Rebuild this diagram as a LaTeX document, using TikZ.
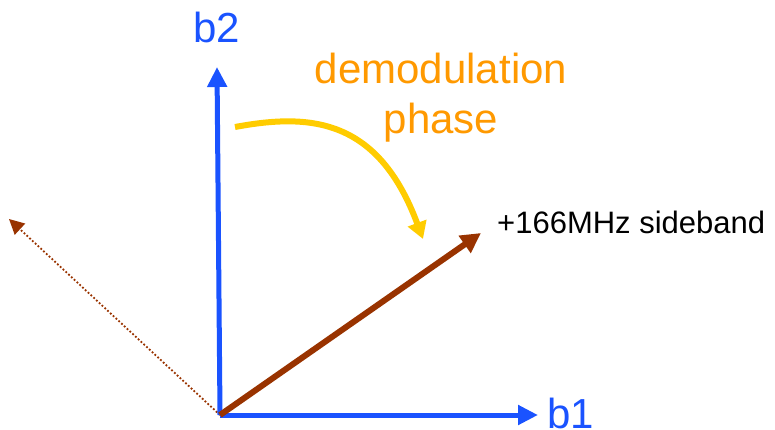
\documentclass[tikz,border=0pt]{standalone}
\usepackage{fontspec}
\setmainfont{Liberation Sans}
\usetikzlibrary{arrows.meta,positioning}
\definecolor{AxisBlue}{RGB}{26,83,255}
\definecolor{VecBrown}{RGB}{153,51,0}
\definecolor{TurnYellow}{RGB}{255,204,0}
\definecolor{LabelOrange}{RGB}{255,153,0}

\begin{document}
\begin{tikzpicture}[x=1pt, y=-1pt, every node/.style={inner sep=0pt},
axis/.style={AxisBlue,line width=5pt,-{Triangle[length=20pt,width=19pt]}},
vec/.style={VecBrown,line width=6pt,-{Triangle[length=20pt,width=20pt]}},
ghost/.style={VecBrown,line width=1.8pt,dotted,-{Triangle[length=15pt,width=15pt]}},
turn/.style={TurnYellow,line width=6pt,-{Triangle[length=17pt,width=19pt]}},
big/.style={font=\fontsize{42}{50}\selectfont},
small/.style={font=\fontsize{31}{37}\selectfont}]
\useasboundingbox (0,0) rectangle (775,429);
\coordinate (origin) at (220,415);
\coordinate (b2tip) at (217,67);
\coordinate (b1tip) at (538,415);
\coordinate (sbtip) at (481,233);
\coordinate (ghosttip) at (9,219);
\coordinate (turnstart) at (235,127);
\coordinate (turnend) at (423,239);
% labels
\node[big, AxisBlue, anchor=base] (b2) at (217,42) {b2};
\node[big, AxisBlue, anchor=base west] (b1) at (547,428) {b1};
\node[small, anchor=base west] (sideband) at (497,233) {+166MHz sideband};
\node[big, LabelOrange, align=center, anchor=north] (phase) at (441,53) {demodulation\\phase};
% vectors
\draw[ghost] (origin) -- (ghosttip);
\draw[axis] (origin) -- (b2tip);
\draw[axis] (origin) -- (b1tip);
\draw[vec] (origin) -- (sbtip);
\draw[turn] (turnstart) .. controls (310,113) and (378,118) .. (turnend);
\end{tikzpicture}
\end{document}
